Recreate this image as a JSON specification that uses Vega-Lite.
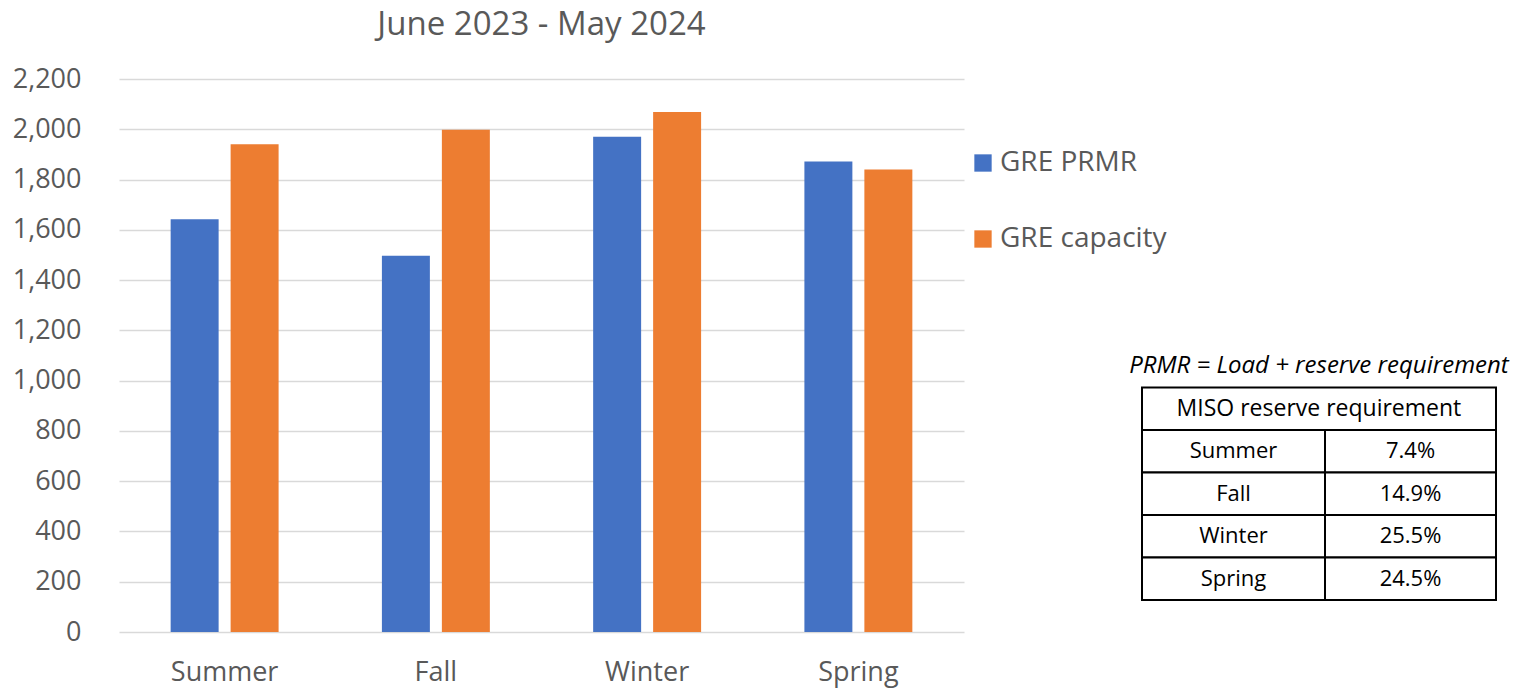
{
  "$schema": "https://vega.github.io/schema/vega-lite/v6.json",
  "padding": {"left": 12, "top": 9, "right": 5, "bottom": 5},
  "background": "white",
  "bounds": "flush",
  "spacing": 178,
  "config": {"font": "Open Sans", "view": {"stroke": null}},
  "hconcat": [
    {
      "width": 845,
      "height": 553,
      "title": {"text": "June 2023 - May 2024", "fontSize": 33, "fontWeight": "normal", "color": "#595959", "anchor": "middle", "offset": 23},
      "data": {"values": [
        {"season": "Summer", "series": "GRE PRMR", "value": 1642},
        {"season": "Summer", "series": "GRE capacity", "value": 1940},
        {"season": "Fall", "series": "GRE PRMR", "value": 1497},
        {"season": "Fall", "series": "GRE capacity", "value": 1998},
        {"season": "Winter", "series": "GRE PRMR", "value": 1970},
        {"season": "Winter", "series": "GRE capacity", "value": 2069},
        {"season": "Spring", "series": "GRE PRMR", "value": 1872},
        {"season": "Spring", "series": "GRE capacity", "value": 1840}
      ]},
      "mark": {"type": "bar"},
      "encoding": {
        "x": {
          "field": "season", "type": "nominal",
          "sort": ["Summer", "Fall", "Winter", "Spring"],
          "scale": {"paddingInner": 0.489, "paddingOuter": 0.2445},
          "axis": {"title": null, "labelAngle": 0, "labelFontSize": 27, "labelColor": "#595959", "ticks": false, "domain": false, "labelPadding": 27}
        },
        "xOffset": {
          "field": "series", "type": "nominal",
          "sort": ["GRE PRMR", "GRE capacity"],
          "scale": {"paddingInner": 0.2, "paddingOuter": 0}
        },
        "y": {
          "field": "value", "type": "quantitative",
          "scale": {"domain": [0, 2200]},
          "axis": {"title": null, "values": [0, 200, 400, 600, 800, 1000, 1200, 1400, 1600, 1800, 2000, 2200], "format": ",d", "labelFontSize": 27, "labelColor": "#595959", "ticks": false, "domain": false, "gridColor": "#D9D9D9", "gridWidth": 1.5, "labelPadding": 38}
        },
        "color": {
          "field": "series", "type": "nominal",
          "sort": ["GRE PRMR", "GRE capacity"],
          "scale": {"range": ["#4472C4", "#ED7D31"]},
          "legend": {"title": null, "orient": "none", "legendX": 850, "legendY": 70, "symbolType": "square", "symbolSize": 300, "labelFontSize": 28, "labelColor": "#595959", "labelLimit": 400, "rowPadding": 48, "symbolStrokeWidth": 0, "labelOffset": 3}
        }
      }
    },
    {
      "width": 354,
      "height": 553,
      "layer": [
        {
          "data": {"values": [{"label": "PRMR = Load + reserve requirement", "row": "note"}]},
          "mark": {"type": "text", "fontSize": 24, "fontStyle": "italic", "color": "black", "align": "center", "baseline": "middle"},
          "encoding": {
            "x": {"datum": 0.967, "type": "quantitative", "scale": {"domain": [0, 1, 2], "range": [0, 183, 354]}, "axis": null},
            "y": {"field": "row", "type": "nominal", "scale": {"domain": ["note", "header", "Summer", "Fall", "Winter", "Spring"], "range": [266, 521], "paddingInner": 0, "paddingOuter": 0}, "axis": null},
            "text": {"field": "label"}
          }
        },
        {
          "data": {"values": [{"label": "MISO reserve requirement", "row": "header"}]},
          "layer": [
            {
              "mark": {"type": "rect", "fill": "white", "stroke": "black", "strokeWidth": 2},
              "encoding": {
                "x": {"datum": 0, "type": "quantitative"},
                "x2": {"datum": 2},
                "y": {"field": "row", "type": "nominal", "axis": null}
              }
            },
            {
              "mark": {"type": "text", "fontSize": 23, "color": "black", "align": "center", "baseline": "middle"},
              "encoding": {
                "x": {"datum": 0.967, "type": "quantitative"},
                "y": {"field": "row", "type": "nominal", "axis": null},
                "text": {"field": "label"}
              }
            }
          ]
        },
        {
          "data": {"values": [
            {"season": "Summer", "req": "7.4%"},
            {"season": "Fall", "req": "14.9%"},
            {"season": "Winter", "req": "25.5%"},
            {"season": "Spring", "req": "24.5%"}
          ]},
          "layer": [
            {
              "mark": {"type": "rect", "fill": "white", "stroke": "black", "strokeWidth": 2},
              "encoding": {
                "x": {"datum": 0, "type": "quantitative"},
                "x2": {"datum": 1},
                "y": {"field": "season", "type": "nominal", "axis": null}
              }
            },
            {
              "mark": {"type": "rect", "fill": "white", "stroke": "black", "strokeWidth": 2},
              "encoding": {
                "x": {"datum": 1, "type": "quantitative"},
                "x2": {"datum": 2},
                "y": {"field": "season", "type": "nominal", "axis": null}
              }
            },
            {
              "mark": {"type": "text", "fontSize": 22, "color": "black", "align": "center", "baseline": "middle"},
              "encoding": {
                "x": {"datum": 0.5, "type": "quantitative"},
                "y": {"field": "season", "type": "nominal", "axis": null},
                "text": {"field": "season"}
              }
            },
            {
              "mark": {"type": "text", "fontSize": 22, "color": "black", "align": "center", "baseline": "middle"},
              "encoding": {
                "x": {"datum": 1.5, "type": "quantitative"},
                "y": {"field": "season", "type": "nominal", "axis": null},
                "text": {"field": "req"}
              }
            }
          ]
        }
      ]
    }
  ]
}
